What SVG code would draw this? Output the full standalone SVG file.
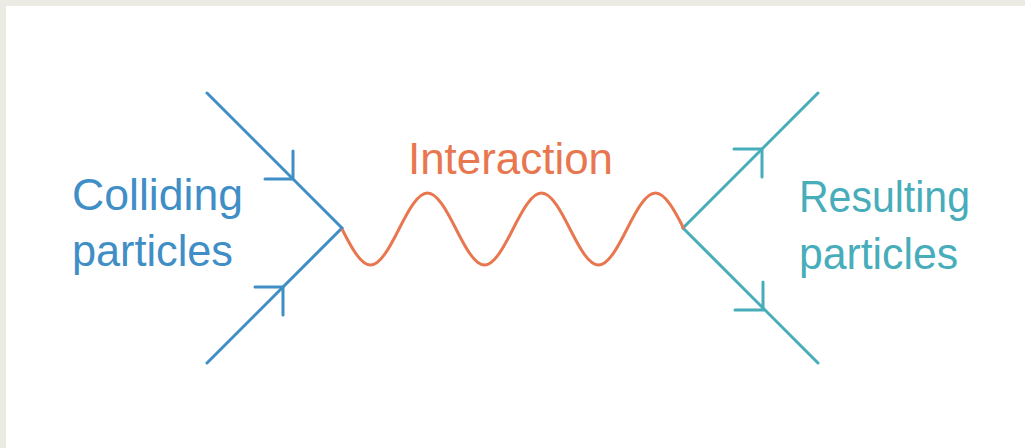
<svg xmlns="http://www.w3.org/2000/svg" width="1025" height="448" viewBox="0 0 1025 448">
<style>
.lbl{font-family:"Liberation Sans",Arial,sans-serif;font-size:45px}
.blue{stroke:#3f8ec6;stroke-width:3;fill:none;stroke-linecap:round}
.teal{stroke:#47adba;stroke-width:3;fill:none;stroke-linecap:round}
.wave{stroke:#e8774f;stroke-width:3;fill:none}
</style>
<rect x="0" y="0" width="1025" height="448" fill="#ecebe3"/>
<rect x="6" y="6" width="1019" height="442" fill="#ffffff"/>
<g id="connectors">
<g id="incoming-upper"><path class="blue" d="M207,93 L342,228"/><path class="blue" d="M265,179 L293,179 L293,151"/></g>
<g id="incoming-lower"><path class="blue" d="M207,363 L342,228"/><path class="blue" d="M255,287 L283,287 L283,315"/></g>
<g id="outgoing-upper"><path class="teal" d="M683,228 L818,93"/><path class="teal" d="M734,149 L762,149 L762,177"/></g>
<g id="outgoing-lower"><path class="teal" d="M683,228 L818,363"/><path class="teal" d="M735,310 L763,310 L763,282"/></g>
<g id="interaction-wave"><path class="wave" d="M342,229 C351.29,247.44 360.68,265 370.5,265 S389.71,247.44 399,229 S417.68,193 427.5,193 S446.71,210.56 456,229 S474.68,265 484.5,265 S503.71,247.44 513,229 S531.68,193 541.5,193 S560.71,210.56 570,229 S588.68,265 598.5,265 S617.71,247.44 627,229 S645.68,193 655.5,193 S674.71,210.56 684,229"/></g>
</g>
<g id="colliding-particles"><text class="lbl" fill="#3f8ec6" x="72" y="210" textLength="171" lengthAdjust="spacingAndGlyphs">Colliding</text><text class="lbl" fill="#3f8ec6" x="72" y="266" textLength="161" lengthAdjust="spacingAndGlyphs">particles</text></g>
<g id="interaction"><text class="lbl" fill="#e8774f" x="408" y="174" textLength="205" lengthAdjust="spacingAndGlyphs">Interaction</text></g>
<g id="resulting-particles"><text class="lbl" fill="#47adba" x="799" y="212" textLength="171" lengthAdjust="spacingAndGlyphs">Resulting</text><text class="lbl" fill="#47adba" x="799" y="269" textLength="159" lengthAdjust="spacingAndGlyphs">particles</text></g>
</svg>
